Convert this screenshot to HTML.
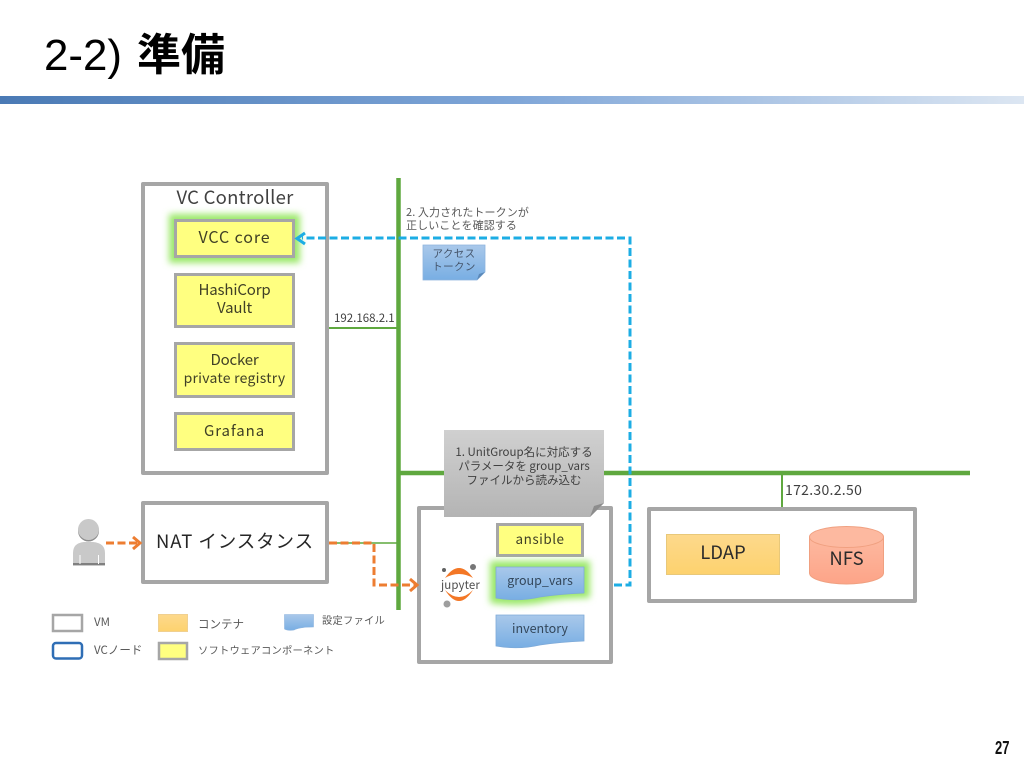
<!DOCTYPE html>
<html><head><meta charset="utf-8"><style>
html,body{margin:0;padding:0;background:#fff;width:1024px;height:768px;overflow:hidden}
svg{display:block}
text{font-family:"Noto Sans CJK JP","Liberation Sans",sans-serif;fill:#404040}
.t{font-family:"Liberation Sans","Noto Sans CJK JP",sans-serif}
.m{text-anchor:middle}
.box{fill:#fff;stroke:#a6a6a6;stroke-width:4;stroke-linejoin:round}
.y{fill:#ffff80;stroke:#a6a6a6;stroke-width:3}
.lbl{fill:#404026;font-size:15px}
.g{stroke:#5fa83f;fill:none}
.o{stroke:#ed7d31;stroke-width:3;fill:none;stroke-dasharray:8 3.5}
.b{stroke:#1cade4;stroke-width:3;fill:none;stroke-dasharray:8 3.5}
.leg{font-size:10.300px;fill:#595959;letter-spacing:.2px}
.note{font-size:11px;fill:#595959;letter-spacing:.1px}
.gn{font-size:11.500px;fill:#404040}
#d{filter:blur(.35px)}
</style></head><body>
<svg width="1024" height="768" viewBox="0 0 1024 768" xmlns="http://www.w3.org/2000/svg">
<defs>
<linearGradient id="bar" x1="0" x2="1" y1="0" y2="0"><stop offset="0" stop-color="#4a7ab5"/><stop offset=".5" stop-color="#7fa6d8"/><stop offset="1" stop-color="#dce6f2"/></linearGradient>
<linearGradient id="file" x1="0" x2="0" y1="0" y2="1"><stop offset="0" stop-color="#a9c8ea"/><stop offset="1" stop-color="#78aee3"/></linearGradient>
<linearGradient id="cont" x1="0" x2="0" y1="0" y2="1"><stop offset="0" stop-color="#fdd98c"/><stop offset="1" stop-color="#fdd26e"/></linearGradient>
<linearGradient id="gray" x1="0" x2="0" y1="0" y2="1"><stop offset="0" stop-color="#d0d0d0"/><stop offset="1" stop-color="#b4b4b4"/></linearGradient>
<linearGradient id="nfs" x1="0" x2="0" y1="0" y2="1"><stop offset="0" stop-color="#fdb9a0"/><stop offset="1" stop-color="#fda488"/></linearGradient>
<filter id="glow" x="-30%" y="-50%" width="160%" height="200%"><feGaussianBlur stdDeviation="3.500"/></filter>
</defs>

<rect x="0" y="96" width="1024" height="8" fill="url(#bar)"/>
<text class="t" x="44" y="70" style="fill:#000;font-size:44px" textLength="78" lengthAdjust="spacingAndGlyphs">2-2)</text>
<text x="137" y="70" style="fill:#000;font-size:44px;font-weight:700">準備</text>

<g id="d">
<!-- network -->
<path class="g" d="M398.500 178V610" stroke-width="4.500"/>
<path class="g" d="M399 473H970" stroke-width="4.500"/>
<path class="g" d="M329 328H397" stroke-width="2"/>
<path class="g" d="M782 473V507" stroke-width="2"/>
<path class="g" d="M328 543H397" stroke-width="1.500"/>

<!-- VC Controller -->
<rect class="box" x="143" y="184" width="184" height="289"/>
<text x="235" y="204" class="m" style="font-size:18.500px;letter-spacing:.25px">VC Controller</text>
<rect x="169" y="214" width="131" height="49" fill="#9be86a" filter="url(#glow)"/>
<rect class="y" x="175.500" y="220.500" width="118" height="36"/>
<text x="234.500" y="243" class="m lbl" style="font-size:16px;letter-spacing:.9px">VCC core</text>
<rect class="y" x="175.500" y="274.500" width="118" height="52"/>
<text x="234.500" y="295" class="m lbl" style="letter-spacing:-.15px">HashiCorp</text>
<text x="234.500" y="313" class="m lbl" style="letter-spacing:-.15px">Vault</text>
<rect class="y" x="175.500" y="343.500" width="118" height="53"/>
<text x="234.500" y="365" class="m lbl" style="letter-spacing:-.2px">Docker</text>
<text x="234.500" y="383" class="m lbl" style="font-size:14px;letter-spacing:.25px">private registry</text>
<rect class="y" x="175.500" y="413.500" width="118" height="36"/>
<text x="234.500" y="436" class="m lbl" style="letter-spacing:.9px">Grafana</text>
<text x="334" y="322" style="font-size:11.500px;fill:#404040">192.168.2.1</text>

<!-- token note -->
<text x="406" y="216" class="note">2. 入力されたトークンが</text>
<text x="406" y="229" class="note">正しいことを確認する</text>
<path d="M423 245H485V272L477 280H423Z" fill="url(#file)" stroke="#8db4de" stroke-width=".8"/>
<path d="M477 280L479 274L485 272Z" fill="#5a88b8"/>
<text x="454" y="257" class="m" style="font-size:10.500px;fill:#44546a;letter-spacing:.4px">アクセス</text>
<text x="454" y="270" class="m" style="font-size:10.500px;fill:#44546a;letter-spacing:.4px">トークン</text>

<!-- NAT -->
<rect class="box" x="143" y="503" width="184" height="79"/>
<text x="156" y="548" style="font-size:18.500px;fill:#262626;letter-spacing:.9px">NAT インスタンス</text>

<!-- person -->
<circle cx="88.500" cy="531" r="10.500" fill="#8c8c8c"/>
<circle cx="88.500" cy="529.500" r="10.500" fill="#c9c9c9"/>
<path d="M73 566V553Q73 543 84 542H93Q105 543 105 553V566Z" fill="#c9c9c9"/>
<rect x="73" y="563" width="32" height="2" fill="#808080"/>
<rect x="79.500" y="555" width="1" height="9" fill="#fff"/>
<rect x="98" y="555" width="1" height="9" fill="#fff"/>

<!-- LDAP/NFS -->
<rect class="box" x="649" y="509" width="266" height="92"/>
<rect x="666.500" y="534.500" width="113" height="40" fill="url(#cont)" stroke="#e8c87a"/>
<text x="723" y="559" class="m" style="font-size:18.500px;fill:#2b2b2b">LDAP</text>
<path d="M809.500 537V573A37 11 0 0 0 883.500 573V537Z" fill="url(#nfs)" stroke="#f0a080"/>
<ellipse cx="846.500" cy="537" rx="37" ry="10.500" fill="#fdb9a0" stroke="#f0a080"/>
<text x="846.500" y="565" class="m" style="font-size:18.500px;fill:#2b2b2b">NFS</text>
<text x="785" y="495" style="font-size:14px;fill:#404040;letter-spacing:.3px">172.30.2.50</text>

<!-- Jupyter box -->
<rect class="box" x="419" y="508" width="192" height="154"/>
<path d="M444 430H604V503L590 517H444Z" fill="url(#gray)"/>
<path d="M590 517L594 506L604 503Z" fill="#8c8c8c"/>
<text x="524" y="456" class="m gn">1. UnitGroup名に対応する</text>
<text x="524" y="470" class="m gn">パラメータを group_vars</text>
<text x="524" y="484" class="m gn">ファイルから読み込む</text>
<rect class="y" x="497.500" y="524.500" width="85" height="31"/>
<text x="540" y="544" class="m" style="font-size:13.500px;fill:#404026;letter-spacing:.5px">ansible</text>
<path d="M490 561H590V598Q560 598 540 603Q515 607 490 603Z" fill="#9be86a" filter="url(#glow)"/>
<path d="M496 567H584V593Q560 594 540 597Q518 602 496 598Z" fill="url(#file)" stroke="#7eaad8" stroke-width=".8"/>
<text x="540" y="585" class="m" style="font-size:12.500px;fill:#33475b">group_vars</text>
<path d="M496 615H584V641Q560 642 540 645Q518 650 496 646Z" fill="url(#file)" stroke="#7eaad8" stroke-width=".8"/>
<text x="540" y="633" class="m" style="font-size:12.500px;fill:#33475b">inventory</text>

<!-- Jupyter logo -->
<path d="M445 578Q459 558 473 578Q459 570 445 578Z" fill="#f37726"/>
<path d="M445 590Q459 612 473 590Q459 604 445 590Z" fill="#f37726"/>
<circle cx="473" cy="567" r="3" fill="#767677"/>
<circle cx="444" cy="570" r="2" fill="#616262"/>
<circle cx="447" cy="604" r="3.500" fill="#9e9e9e"/>
<text x="460.500" y="589" class="m" style="font-size:11.500px;fill:#4e4e4e;letter-spacing:.1px">jupyter</text>

<!-- arrows -->
<path class="b" d="M614 585H630V238H302"/>
<path d="M305 233L297 238.500L305 244" fill="none" stroke="#1cade4" stroke-width="3"/>
<path class="o" d="M106 543H139"/>
<path d="M133 537L140 543L133 549" fill="none" stroke="#ed7d31" stroke-width="3"/>
<path class="o" d="M329 543H374V585H416"/>
<path d="M410 579L417 585L410 591" fill="none" stroke="#ed7d31" stroke-width="3"/>

<!-- legend -->
<rect x="53" y="615" width="29" height="16" fill="#fff" stroke="#a6a6a6" stroke-width="2.500"/>
<text x="94" y="626" style="font-size:11.500px;fill:#595959">VM</text>
<rect x="53" y="643" width="29" height="15.500" rx="3" fill="#fff" stroke="#2f6eb5" stroke-width="2.500"/>
<text x="94" y="654" style="font-size:11.500px;fill:#595959">VCノード</text>
<rect x="158.500" y="614.500" width="29" height="17" fill="url(#cont)" stroke="#f0d090"/>
<text x="198" y="628" style="font-size:11.500px;fill:#595959">コンテナ</text>
<rect x="159" y="643" width="28" height="16" fill="#ffff80" stroke="#a6a6a6" stroke-width="2.500"/>
<text x="198" y="654" class="leg">ソフトウェアコンポーネント</text>
<path d="M284.500 614.500H313.500V627Q300 627 294 630Q288 631 284.500 629Z" fill="url(#file)" stroke="#8db4de" stroke-width=".6"/>
<text x="322" y="624" class="leg">設定ファイル</text>
</g>

<text class="t" x="995" y="754" style="fill:#111;font-size:18px;font-weight:700" textLength="14.500" lengthAdjust="spacingAndGlyphs">27</text>
</svg>
</body></html>
